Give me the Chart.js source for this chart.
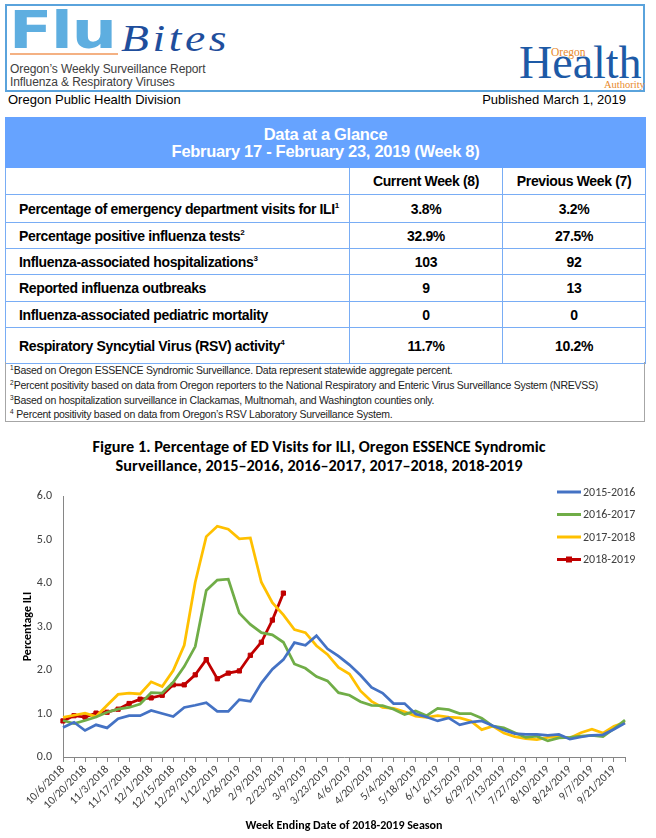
<!DOCTYPE html>
<html>
<head>
<meta charset="utf-8">
<script src="https://cdn.jsdelivr.net/npm/chart.js@4.4.1/dist/chart.umd.min.js"></script>
<style>
  html, body { margin: 0; padding: 0; background: #fff; }
  body { width: 656px; height: 838px; position: relative; overflow: hidden; font-family: "Liberation Sans", Arial, sans-serif; }
  .abs { position: absolute; white-space: nowrap; }
  #masthead { left: 5px; top: 4px; width: 640px; height: 88px; box-sizing: border-box; border: 2px solid #5aa3dc; }
  #flu { left: 9px; top: 4px; font-family: "DejaVu Sans", sans-serif; font-weight: bold; font-size: 52px; line-height: 52px; color: #5eaee0; transform: scaleX(1.22); transform-origin: left top; letter-spacing: -1px; }
  #bites { left: 121px; top: 19px; font-family: "Liberation Serif", serif; font-style: italic; font-size: 38px; line-height: 38px; color: #1f4e9c; letter-spacing: 3px; transform: scaleX(1.2); transform-origin: left top; }
  #rule { left: 10px; top: 53px; width: 108px; height: 2px; background: #f4b183; }
  .sub { left: 10px; font-size: 12px; line-height: 14px; color: #404040; letter-spacing: -0.1px; }
  #health { left: 519px; top: 48px; font-family: "Liberation Serif", serif; font-size: 46px; line-height: 30px; color: #1d5aa6; }
  #oregon { left: 551px; top: 47px; font-family: "Liberation Serif", serif; font-size: 11.5px; line-height: 10px; color: #e8892b; }
  #authority { left: 604px; top: 80px; font-family: "Liberation Serif", serif; font-size: 10.5px; line-height: 9px; color: #e8892b; }
  .line2 { top: 92px; font-size: 13px; line-height: 15px; color: #000; }
  #glance { position: absolute; left: 5px; top: 117px; width: 640px; border-collapse: collapse; table-layout: fixed; }
  #glance td { border: 1px solid #79adf5; padding: 0; font-weight: bold; color: #000; white-space: nowrap; letter-spacing: -0.35px; }
  #glance td.lab { padding-left: 13px; font-size: 14px; text-align: left; }
  #glance td.val { text-align: center; font-size: 14px; }
  #glance td.head { background: #66a3ff; color: #fff; text-align: center; font-size: 16.5px; line-height: 17px; border-color: #66a3ff; letter-spacing: -0.3px; }
  #glance sup { font-size: 8px; vertical-align: 6px; line-height: 0; letter-spacing: 0; }
  #notes { left: 5px; top: 362px; width: 640px; height: 60px; box-sizing: border-box; border: 1px solid #a6a6a6; border-top: none; }
  .note { left: 4px; font-size: 10.5px; line-height: 15px; color: #222; letter-spacing: -0.25px; }
  .note sup { font-size: 6.5px; vertical-align: 4px; line-height: 0; letter-spacing: 0; }
  #figtitle { left: 0; top: 437px; width: 638px; text-align: center; font-family: Carlito, Lato, "Open Sans", sans-serif; font-weight: bold; font-size: 16.3px; line-height: 19px; color: #000; }
  #chartbox { position: absolute; left: 0; top: 478px; width: 656px; height: 360px; }
</style>
</head>
<body>

<div class="abs" id="masthead"></div>
<div class="abs" id="flu">Flu</div>
<div class="abs" id="bites">Bites</div>
<div class="abs" id="rule"></div>
<div class="abs sub" style="top:62px">Oregon’s Weekly Surveillance Report</div>
<div class="abs sub" style="top:75px">Influenza &amp; Respiratory Viruses</div>
<div class="abs" id="health">Health</div>
<div class="abs" id="oregon">Oregon</div>
<div class="abs" id="authority">Authority</div>

<div class="abs line2" style="left:8px">Oregon Public Health Division</div>
<div class="abs line2" style="right:30px">Published March 1, 2019</div>

<table id="glance">
  <colgroup><col style="width:344px"><col style="width:153px"><col style="width:143px"></colgroup>
  <tr style="height:50px"><td class="head" colspan="3">Data at a Glance<br>February 17 - February 23, 2019 (Week 8)</td></tr>
  <tr style="height:27px"><td></td><td class="val">Current Week (8)</td><td class="val">Previous Week (7)</td></tr>
  <tr style="height:28px"><td class="lab">Percentage of emergency department visits for ILI<sup>1</sup></td><td class="val">3.8%</td><td class="val">3.2%</td></tr>
  <tr style="height:26px"><td class="lab">Percentage positive influenza tests<sup>2</sup></td><td class="val">32.9%</td><td class="val">27.5%</td></tr>
  <tr style="height:26px"><td class="lab">Influenza-associated hospitalizations<sup>3</sup></td><td class="val">103</td><td class="val">92</td></tr>
  <tr style="height:27px"><td class="lab">Reported influenza outbreaks</td><td class="val">9</td><td class="val">13</td></tr>
  <tr style="height:26px"><td class="lab">Influenza-associated pediatric mortality</td><td class="val">0</td><td class="val">0</td></tr>
  <tr style="height:36px"><td class="lab">Respiratory Syncytial Virus (RSV) activity<sup>4</sup></td><td class="val">11.7%</td><td class="val">10.2%</td></tr>
</table>

<div class="abs" id="notes">
  <div class="abs note" style="top:1px"><sup>1</sup>Based on Oregon ESSENCE Syndromic Surveillance. Data represent statewide aggregate percent.</div>
  <div class="abs note" style="top:16px"><sup>2</sup>Percent positivity based on data from Oregon reporters to the National Respiratory and Enteric Virus Surveillance System (NREVSS)</div>
  <div class="abs note" style="top:31px"><sup>3</sup>Based on hospitalization surveillance in Clackamas, Multnomah, and Washington counties only.</div>
  <div class="abs note" style="top:45px"><sup>4</sup> Percent positivity based on data from Oregon’s RSV Laboratory Surveillance System.</div>
</div>

<div class="abs" id="figtitle">Figure 1. Percentage of ED Visits for ILI, Oregon ESSENCE Syndromic<br>Surveillance, 2015–2016, 2016–2017, 2017–2018, 2018-2019</div>

<div id="chartbox"><canvas id="ili" width="656" height="360"></canvas></div>

<script>
// week ending dates, 2018-2019 season
const weeks = [
  '10/6/2018', '10/13/2018', '10/20/2018', '10/27/2018', '11/3/2018', '11/10/2018', '11/17/2018', '11/24/2018',
  '12/1/2018', '12/8/2018', '12/15/2018', '12/22/2018', '12/29/2018', '1/5/2019', '1/12/2019', '1/19/2019',
  '1/26/2019', '2/2/2019', '2/9/2019', '2/16/2019', '2/23/2019', '3/2/2019', '3/9/2019', '3/16/2019',
  '3/23/2019', '3/30/2019', '4/6/2019', '4/13/2019', '4/20/2019', '4/27/2019', '5/4/2019', '5/11/2019',
  '5/18/2019', '5/25/2019', '6/1/2019', '6/8/2019', '6/15/2019', '6/22/2019', '6/29/2019', '7/6/2019',
  '7/13/2019', '7/20/2019', '7/27/2019', '8/3/2019', '8/10/2019', '8/17/2019', '8/24/2019', '8/31/2019',
  '9/7/2019', '9/14/2019', '9/21/2019', '9/28/2019'
];

const season1516 = [
  0.68, 0.80, 0.61, 0.74, 0.67, 0.88, 0.95, 0.95, 1.07, 1.00, 0.93, 1.14, 1.19, 1.25, 1.05, 1.05,
  1.32, 1.28, 1.70, 2.02, 2.24, 2.63, 2.57, 2.79, 2.49, 2.32, 2.12, 1.88, 1.60, 1.47, 1.23, 1.23,
  0.99, 0.92, 0.83, 0.90, 0.74, 0.80, 0.83, 0.72, 0.62, 0.54, 0.52, 0.52, 0.50, 0.52, 0.41, 0.46,
  0.50, 0.51, 0.64, 0.78
];
const season1617 = [
  0.84, 0.77, 0.84, 0.92, 1.03, 1.10, 1.14, 1.22, 1.48, 1.47, 1.72, 2.08, 2.54, 3.83, 4.07, 4.09,
  3.31, 3.05, 2.86, 2.81, 2.64, 2.14, 2.04, 1.85, 1.75, 1.48, 1.42, 1.27, 1.19, 1.18, 1.10, 0.98,
  1.06, 0.95, 1.12, 1.09, 1.00, 1.00, 0.89, 0.71, 0.67, 0.56, 0.45, 0.48, 0.37, 0.44, 0.45, 0.48,
  0.50, 0.47, 0.65, 0.85
];
const season1718 = [
  0.91, 0.96, 1.01, 0.93, 1.19, 1.44, 1.47, 1.45, 1.73, 1.62, 1.99, 2.57, 4.02, 5.07, 5.31, 5.24,
  5.02, 5.04, 4.02, 3.55, 3.27, 2.93, 2.86, 2.56, 2.36, 2.06, 1.91, 1.52, 1.28, 1.14, 1.12, 1.04,
  0.94, 0.91, 0.95, 0.92, 0.90, 0.83, 0.63, 0.71, 0.55, 0.47, 0.42, 0.40, 0.45, 0.47, 0.44, 0.56,
  0.64, 0.55, 0.71, 0.80
];
const season1819 = [
  0.83, 0.95, 0.92, 1.01, 1.03, 1.10, 1.23, 1.33, 1.36, 1.42, 1.66, 1.66, 1.89, 2.24, 1.80, 1.93,
  1.98, 2.34, 2.64, 3.15, 3.77
];

const seasonNames = ['2015-2016', '2016-2017', '2017-2018', '2018-2019'];
const seasonColors = ['#4472c4', '#70ad47', '#ffc000', '#c00000'];

const chartFont = 'Carlito, Lato, "Open Sans", sans-serif';

// legend drawn at top right, over the plot like the original
const cornerLegend = {
  id: 'cornerLegend',
  afterDraw(chart) {
    const ctx = chart.ctx;
    const x0 = chart.chartArea.right - 68;
    chart.data.datasets.forEach(function (ds, i) {
      const y = 14 + i * 22.5;
      ctx.save();
      ctx.strokeStyle = ds.borderColor;
      ctx.lineWidth = 3;
      ctx.beginPath();
      ctx.moveTo(x0, y);
      ctx.lineTo(x0 + 24, y);
      ctx.stroke();
      if (ds.pointRadius > 0) {
        ctx.fillStyle = ds.borderColor;
        ctx.fillRect(x0 + 9, y - 3, 6, 6);
      }
      ctx.fillStyle = '#404040';
      ctx.font = '12px ' + chartFont;
      ctx.textBaseline = 'middle';
      ctx.fillText(ds.label, x0 + 26, y + 0.5);
      ctx.restore();
    });
  }
};

const allSeasons = [season1516, season1617, season1718, season1819];

new Chart(document.getElementById('ili'), {
  type: 'line',
  data: {
    labels: weeks,
    datasets: allSeasons.map(function (vals, i) {
      const isCurrent = i === 3;
      return {
        label: seasonNames[i],
        data: vals,
        borderColor: seasonColors[i],
        backgroundColor: seasonColors[i],
        borderWidth: 2.75,
        pointStyle: 'rect',
        pointRadius: isCurrent ? 3 : 0,
        pointHoverRadius: isCurrent ? 3 : 0,
        pointBorderWidth: 1,
        tension: 0
      };
    })
  },
  options: {
    responsive: false,
    animation: false,
    layout: { padding: { top: 11, right: 31, left: 0, bottom: 0 } },
    plugins: {
      legend: { display: false },
      tooltip: { enabled: false }
    },
    scales: {
      x: {
        grid: { display: true, drawOnChartArea: false, drawTicks: true, tickLength: 5, color: '#868686' },
        border: { color: '#868686', width: 1 },
        ticks: {
          autoSkip: false,
          maxRotation: 45,
          minRotation: 45,
          padding: 1,
          color: '#404040',
          font: { family: chartFont, size: 11.5 },
          callback: function (v, i) { return i % 2 === 0 ? this.getLabelForValue(v) : ''; }
        },
        title: {
          display: true,
          text: 'Week Ending Date of 2018-2019 Season',
          color: '#000',
          font: { family: chartFont, size: 12, weight: 'bold' },
          padding: { top: 0, bottom: 5 }
        },
        afterFit: function (scale) { scale.height = 81; }
      },
      y: {
        min: 0,
        max: 6,
        grid: { display: false, drawTicks: false },
        border: { color: '#868686', width: 1 },
        ticks: {
          stepSize: 1,
          padding: 11,
          color: '#404040',
          font: { family: chartFont, size: 12 },
          callback: function (v) { return v.toFixed(1); }
        },
        title: {
          display: true,
          text: 'Percentage ILI',
          color: '#000',
          font: { family: chartFont, size: 12, weight: 'bold' },
          padding: { top: 21, bottom: 0 }
        },
        afterFit: function (scale) { scale.width = 63; }
      }
    }
  },
  plugins: [cornerLegend]
});
</script>
</body>
</html>
